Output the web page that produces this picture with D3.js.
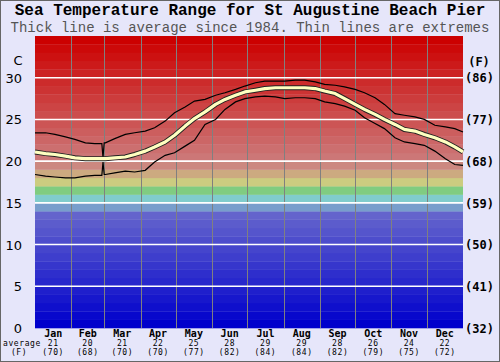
<!DOCTYPE html>
<html><head><meta charset="utf-8">
<script src="https://cdn.jsdelivr.net/npm/d3@7"></script>
<style>
html,body{margin:0;padding:0;background:#e6e6fa;}
svg{display:block;}
</style></head>
<body>
<script>
// ---- data ----
const months = ["Jan","Feb","Mar","Apr","May","Jun","Jul","Aug","Sep","Oct","Nov","Dec"];
const monthStartDays = [0,31,59,90,120,151,181,212,243,273,304,334,365];
const avgC = ["21","20","21","22","25","28","29","29","28","26","24","22"];
const avgF = ["(70)","(68)","(70)","(70)","(77)","(82)","(84)","(84)","(82)","(79)","(75)","(72)"];
const cTicks = [0,5,10,15,20,25,30];
const fTickLabels = ["(32)","(41)","(50)","(59)","(68)","(77)","(86)"];

const days = [0,9,17,26,34,43,51,57,58,59,60,68,77,85,94,102,111,119,128,136,145,154,162,171,179,188,196,205,213,222,230,239,247,256,264,273,281,290,298,307,315,324,332,341,350,358,365];
const avgLine = [21.1,20.9,20.8,20.6,20.4,20.3,20.3,20.3,20.3,20.3,20.3,20.4,20.5,20.8,21.2,21.7,22.3,23.1,24.2,25.1,25.9,26.8,27.4,27.9,28.3,28.5,28.7,28.8,28.8,28.8,28.8,28.7,28.4,28.1,27.5,26.8,26.2,25.6,25.0,24.4,23.8,23.6,23.2,22.8,22.3,21.7,21.1];
const maxLine = [23.4,23.4,23.2,22.9,22.6,22.2,22.1,22.1,20.4,22.2,22.2,22.7,23.2,23.4,23.6,24.0,24.8,25.8,26.5,27.2,27.4,27.9,28.2,28.6,29.0,29.4,29.6,29.6,29.6,29.7,29.7,29.5,29.2,29.1,28.9,28.6,28.2,27.6,26.8,25.7,25.5,25.3,25.0,24.3,24.1,23.9,23.5];
const minLine = [18.4,18.2,18.1,18.0,18.0,18.2,18.3,18.3,19.9,18.4,18.4,18.6,18.8,18.7,18.9,19.9,20.7,21.0,21.8,22.5,24.4,25.0,26.2,27.1,27.5,27.7,27.8,27.7,27.5,27.6,27.6,27.5,27.1,26.9,26.6,26.1,25.2,24.5,23.9,22.8,22.3,22.1,21.9,21.2,20.3,19.6,19.5];

// ---- layout ----
const W = 500, H = 362;
const L = 35, R = 463, T = 36, B = 328;
const svg = d3.select("body").append("svg").attr("width", W).attr("height", H);

svg.append("rect").attr("x",0.5).attr("y",0.5).attr("width",W-1).attr("height",H-1)
  .attr("fill","#e6e6fa").attr("stroke","#666");

const x = d3.scaleLinear().domain([0,365]).range([L,R]);
const y = d3.scaleLinear().domain([0,35]).range([B,T]);

function bandColor(t){
  if (t < 14) { const v = Math.round(t*7.7); return `rgb(${v},${v},204)`; }
  if (t === 14) return "rgb(120,158,204)";
  if (t === 15) return "rgb(128,204,204)";
  if (t === 16) return "rgb(128,204,128)";
  if (t === 17) return "rgb(204,204,128)";
  if (t === 18) return "rgb(204,170,128)";
  if (t === 19) return "rgb(204,136,128)";
  const g = Math.max(0, Math.round(128 - (t-19)*128/15));
  return `rgb(204,${g},${g})`;
}
const bands = d3.range(0,35);
svg.append("g").selectAll("rect").data(bands).join("rect")
  .attr("x", L).attr("width", R-L)
  .attr("y", d => y(d+1)).attr("height", d => y(d) - y(d+1) + 0.3)
  .attr("fill", d => bandColor(d));

// vertical month lines
svg.append("g").selectAll("line").data(monthStartDays.slice(1,12)).join("line")
  .attr("x1", d => Math.round(x(d))+0.5).attr("x2", d => Math.round(x(d))+0.5)
  .attr("y1", T).attr("y2", B)
  .attr("stroke", "#808080").attr("stroke-width", 1);

// horizontal white lines
svg.append("g").selectAll("line").data(cTicks.filter(d => d>0)).join("line")
  .attr("x1", L).attr("x2", R)
  .attr("y1", d => y(d)).attr("y2", d => y(d))
  .attr("stroke", "#fff").attr("stroke-width", 1.6);

const pts = arr => days.map((d,i) => [d, arr[i]]);
const line = d3.line().x(d => x(d[0])).y(d => y(d[1]));

svg.append("path").attr("d", line(pts(maxLine))).attr("fill","none").attr("stroke","#000").attr("stroke-width",1.2);
svg.append("path").attr("d", line(pts(minLine))).attr("fill","none").attr("stroke","#000").attr("stroke-width",1.2);
svg.append("path").attr("d", line(pts(avgLine))).attr("fill","none").attr("stroke","#222").attr("stroke-width",5).attr("stroke-linejoin","round");
svg.append("path").attr("d", line(pts(avgLine))).attr("fill","none").attr("stroke","#ffffc0").attr("stroke-width",3.2).attr("stroke-linejoin","round");

// titles
svg.append("text").attr("x", 250).attr("y", 15).attr("text-anchor","middle")
  .attr("font-family","'Liberation Mono', monospace").attr("font-weight","bold").attr("font-size",16)
  .attr("fill","#000").text("Sea Temperature Range for St Augustine Beach Pier");
svg.append("text").attr("x", 250).attr("y", 32).attr("text-anchor","middle")
  .attr("font-family","'Liberation Mono', monospace").attr("font-size",14)
  .attr("fill","#555").text("Thick line is average since 1984. Thin lines are extremes");

// left axis (C)
const yAxisL = d3.axisLeft(y).tickValues(cTicks).tickSize(0).tickPadding(0);
const gl = svg.append("g").attr("transform", `translate(${L-13},0)`).call(yAxisL);
gl.select(".domain").remove();
gl.selectAll("text").attr("font-family","'DejaVu Sans', sans-serif").attr("font-size",13).attr("fill","#000").attr("dy","0.35em");
svg.append("text").attr("x", 18).attr("y", 65).attr("text-anchor","middle")
  .attr("font-family","'DejaVu Sans', sans-serif").attr("font-size",13).attr("fill","#000").text("C");

// right axis (F)
const yAxisR = d3.axisRight(y).tickValues(cTicks).tickFormat((d,i) => fTickLabels[i]).tickSize(0).tickPadding(0);
const gr = svg.append("g").attr("transform", `translate(${R+2},0)`).call(yAxisR);
gr.select(".domain").remove();
gr.selectAll("text").attr("font-family","'DejaVu Sans Mono', monospace").attr("font-weight","bold").attr("font-size",12).attr("fill","#000").attr("dy","0.35em");
svg.append("text").attr("x", 479).attr("y", 66).attr("text-anchor","middle")
  .attr("font-family","'DejaVu Sans Mono', monospace").attr("font-weight","bold").attr("font-size",12).attr("fill","#000").text("(F)");

// bottom labels
const mid = months.map((m,i) => (monthStartDays[i]+monthStartDays[i+1])/2);
const gb = svg.append("g").attr("font-family","'DejaVu Sans Mono', monospace").attr("text-anchor","middle").attr("fill","#000");
gb.selectAll("text.m").data(months).join("text").attr("class","m")
  .attr("x",(d,i)=>x(mid[i])).attr("y",337).attr("font-weight","bold").attr("font-size",10).text(d=>d);
gb.selectAll("text.c").data(avgC).join("text").attr("class","c")
  .attr("x",(d,i)=>x(mid[i])).attr("y",346).attr("font-size",8).attr("letter-spacing",0.6).text(d=>d);
gb.selectAll("text.f").data(avgF).join("text").attr("class","f")
  .attr("x",(d,i)=>x(mid[i])).attr("y",355).attr("font-size",8).attr("letter-spacing",0.6).text(d=>d);
gb.append("text").attr("x",22).attr("y",346).attr("font-size",8).attr("letter-spacing",0.6).text("average");
gb.append("text").attr("x",19).attr("y",355).attr("font-size",8).attr("letter-spacing",0.6).text("(F)");
</script>
</body></html>
